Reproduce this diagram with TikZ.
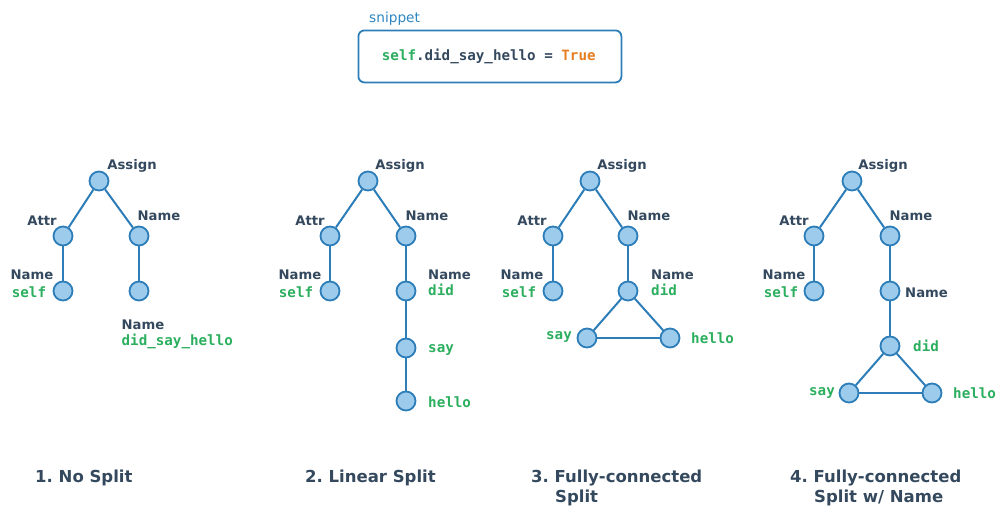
\documentclass[tikz,border=0pt]{standalone}
\usepackage{fontspec}
\setmainfont{DejaVu Sans}
\newfontfamily\codefont{DejaVu Sans Mono}
\frenchspacing
\definecolor{nodefill}{HTML}{9CCBEC}
\definecolor{nodeline}{HTML}{2C7DB8}
\definecolor{labeldark}{HTML}{34495E}
\definecolor{codegreen}{HTML}{2BAE5E}
\definecolor{codeorange}{HTML}{E67E22}
\definecolor{snipblue}{HTML}{2E86C1}
\tikzset{
  tnode/.style={circle,draw=nodeline,fill=nodefill,line width=1.8pt,minimum size=19pt,inner sep=0pt},
  tedge/.style={draw=nodeline,line width=2pt},
  lab/.style={inner sep=0pt,text=labeldark,font=\fontsize{13.2}{16}\selectfont\bfseries},
  code/.style={inner sep=0pt,text=codegreen,font=\fontsize{14.2}{16}\selectfont\codefont\bfseries},
  captxt/.style={inner sep=0pt,text=labeldark,font=\fontsize{16.5}{20}\selectfont\bfseries}
}
\begin{document}
\begin{tikzpicture}[x=1pt,y=-1pt]
\useasboundingbox (0,0) rectangle (996,507);
% snippet
\node[inner sep=0pt,anchor=base west,text=snipblue,font=\fontsize{13.7}{16}\selectfont] (sniplab) at (369,22) {snippet};
\node[draw=nodeline,line width=1.8pt,rounded corners=6pt,minimum width=263pt,minimum height=52pt,anchor=north west] (snipbox) at (357.5,29.5) {};
\node[code,anchor=base west,text=labeldark] (snipcode) at (381.7,60) {\textcolor{codegreen}{self}.did\_say\_hello = \textcolor{codeorange}{True}};

% panel 1
\node[tnode] (p1a) at (99,181) {};
\node[tnode] (p1b) at (63,236) {};
\node[tnode] (p1c) at (139,236) {};
\node[tnode] (p1d) at (63,291) {};
\node[tnode] (p1e) at (139,291) {};
\draw[tedge] (p1a) -- (p1b);
\draw[tedge] (p1a) -- (p1c);
\draw[tedge] (p1b) -- (p1d);
\draw[tedge] (p1c) -- (p1e);
\node[lab,anchor=base] (l1a) at (132,169) {Assign};
\node[lab,anchor=base] (l1b) at (42,225) {Attr};
\node[lab,anchor=base] (l1c) at (159,220) {Name};
\node[lab,anchor=base] (l1d) at (32,279) {Name};
\node[code,anchor=base] (l1ds) at (29,297) {self};
\node[lab,anchor=base west] (l1e) at (121.5,329.5) {Name};
\node[code,anchor=base west] (l1es) at (121.5,345) {did\_say\_hello};

% panel 2
\node[tnode] (p2a) at (368,181) {};
\node[tnode] (p2b) at (330,236) {};
\node[tnode] (p2c) at (406,236) {};
\node[tnode] (p2d) at (330,291) {};
\node[tnode] (p2e) at (406,291) {};
\node[tnode] (p2f) at (406,348) {};
\node[tnode] (p2g) at (406,401) {};
\draw[tedge] (p2a) -- (p2b);
\draw[tedge] (p2a) -- (p2c);
\draw[tedge] (p2b) -- (p2d);
\draw[tedge] (p2c) -- (p2e);
\draw[tedge] (p2e) -- (p2f);
\draw[tedge] (p2f) -- (p2g);
\node[lab,anchor=base] (l2a) at (400,169) {Assign};
\node[lab,anchor=base] (l2b) at (310,225) {Attr};
\node[lab,anchor=base] (l2c) at (427,220) {Name};
\node[lab,anchor=base] (l2d) at (300,279) {Name};
\node[code,anchor=base] (l2ds) at (296,297) {self};
\node[lab,anchor=base west] (l2e) at (428,279) {Name};
\node[code,anchor=base west] (l2es) at (428,295) {did};
\node[code,anchor=base west] (l2f) at (428,352) {say};
\node[code,anchor=base west] (l2g) at (428,407) {hello};

% panel 3
\node[tnode] (p3a) at (590,181) {};
\node[tnode] (p3b) at (553,236) {};
\node[tnode] (p3c) at (628,236) {};
\node[tnode] (p3d) at (553,291) {};
\node[tnode] (p3e) at (628,291) {};
\node[tnode] (p3f) at (587,338) {};
\node[tnode] (p3g) at (670,338) {};
\draw[tedge] (p3a) -- (p3b);
\draw[tedge] (p3a) -- (p3c);
\draw[tedge] (p3b) -- (p3d);
\draw[tedge] (p3c) -- (p3e);
\draw[tedge] (p3e) -- (p3f);
\draw[tedge] (p3e) -- (p3g);
\draw[tedge] (p3f) -- (p3g);
\node[lab,anchor=base] (l3a) at (622,169) {Assign};
\node[lab,anchor=base] (l3b) at (532,225) {Attr};
\node[lab,anchor=base] (l3c) at (649,220) {Name};
\node[lab,anchor=base] (l3d) at (522,279) {Name};
\node[code,anchor=base] (l3ds) at (519,297) {self};
\node[lab,anchor=base west] (l3e) at (651,279) {Name};
\node[code,anchor=base west] (l3es) at (651,295) {did};
\node[code,anchor=base] (l3f) at (559,339.5) {say};
\node[code,anchor=base west] (l3g) at (691,343) {hello};

% panel 4
\node[tnode] (p4a) at (852,181) {};
\node[tnode] (p4b) at (814,236) {};
\node[tnode] (p4c) at (890,236) {};
\node[tnode] (p4d) at (814,291) {};
\node[tnode] (p4e) at (890,291) {};
\node[tnode] (p4f) at (890,346) {};
\node[tnode] (p4g) at (849,393) {};
\node[tnode] (p4h) at (932,393) {};
\draw[tedge] (p4a) -- (p4b);
\draw[tedge] (p4a) -- (p4c);
\draw[tedge] (p4b) -- (p4d);
\draw[tedge] (p4c) -- (p4e);
\draw[tedge] (p4e) -- (p4f);
\draw[tedge] (p4f) -- (p4g);
\draw[tedge] (p4f) -- (p4h);
\draw[tedge] (p4g) -- (p4h);
\node[lab,anchor=base] (l4a) at (883,169) {Assign};
\node[lab,anchor=base] (l4b) at (794,225) {Attr};
\node[lab,anchor=base] (l4c) at (911,220) {Name};
\node[lab,anchor=base] (l4d) at (784,279) {Name};
\node[code,anchor=base] (l4ds) at (781,297) {self};
\node[lab,anchor=base west] (l4e) at (905,297.5) {Name};
\node[code,anchor=base west] (l4f) at (913,351) {did};
\node[code,anchor=base] (l4g) at (822,395) {say};
\node[code,anchor=base west] (l4h) at (953,398.5) {hello};

% captions
\node[captxt,anchor=base west] (c1) at (35,482) {1. No Split};
\node[captxt,anchor=base west] (c2) at (305,482) {2. Linear Split};
\node[captxt,anchor=base west] (c3) at (531,482) {3. Fully-connected};
\node[captxt,anchor=base west] (c3b) at (555,502) {Split};
\node[captxt,anchor=base west] (c4) at (790,482) {4. Fully-connected};
\node[captxt,anchor=base west] (c4b) at (814,502) {Split w/ Name};
\end{tikzpicture}
\end{document}
